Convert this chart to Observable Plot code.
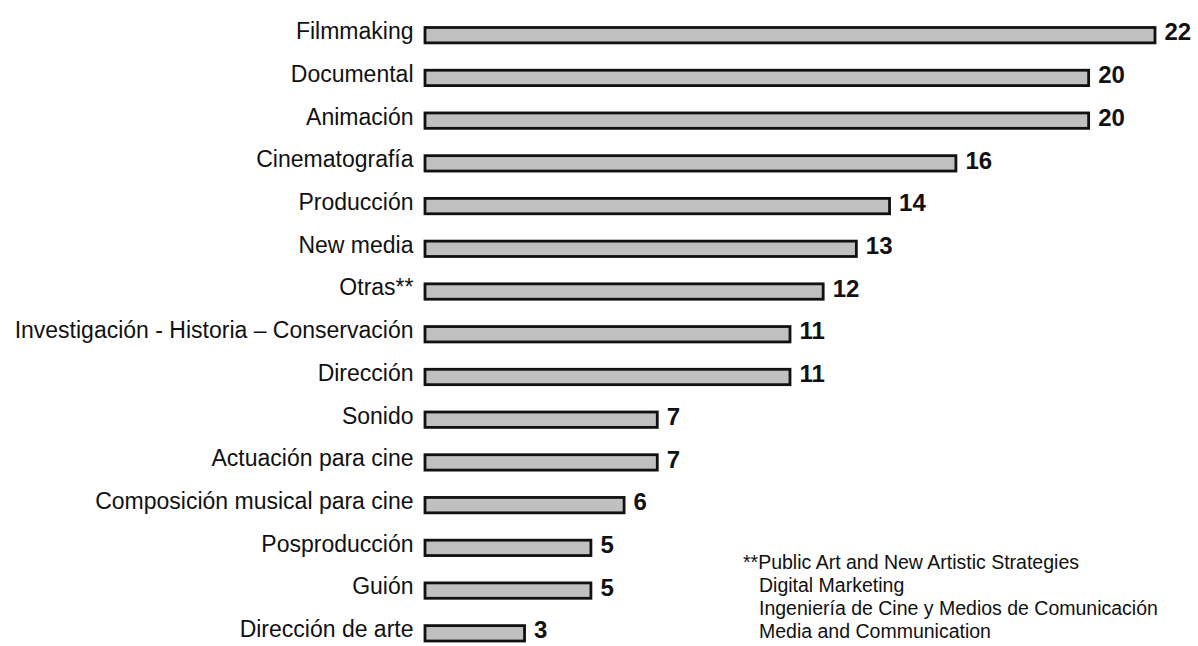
<!DOCTYPE html>
<html>
<head>
<meta charset="utf-8">
<script src="https://cdn.jsdelivr.net/npm/d3@7"></script>
<script src="https://cdn.jsdelivr.net/npm/@observablehq/plot@0.6"></script>
<style>
  html, body { margin: 0; padding: 0; background: #fff; }
  #wrap { position: relative; width: 1198px; height: 646px; overflow: hidden; }
  #note {
    position: absolute; left: 743px; top: 551px;
    font-family: "Liberation Sans", Arial, sans-serif; font-size: 19.5px; line-height: 23px; color: #111;
  }
  #note .ind { padding-left: 16px; }
</style>
</head>
<body>
<div id="wrap"><div id="chart"></div>
<div id="note">
  <div>**Public Art and New Artistic Strategies</div>
  <div class="ind">Digital Marketing</div>
  <div class="ind">Ingeniería de Cine y Medios de Comunicación</div>
  <div class="ind">Media and Communication</div>
</div></div>
<script>
const categories = [
  "Filmmaking", "Documental", "Animación", "Cinematografía", "Producción",
  "New media", "Otras**", "Investigación - Historia – Conservación", "Dirección",
  "Sonido", "Actuación para cine", "Composición musical para cine",
  "Posproducción", "Guión", "Dirección de arte"
];
const values = [22, 20, 20, 16, 14, 13, 12, 11, 11, 7, 7, 6, 5, 5, 3];

const data = categories.map((c, i) => ({category: c, value: values[i]}));

const chart = Plot.plot({
  width: 1198,
  height: 646,
  marginLeft: 425,
  marginRight: 43,
  marginTop: 0,
  marginBottom: 0,
  style: {fontFamily: "'Liberation Sans', Arial, sans-serif", background: "#fff", overflow: "hidden"},
  x: {domain: [0, 22], range: [425, 1155], axis: null},
  y: {domain: categories, range: [27.5, 641], paddingInner: 0.64, paddingOuter: 0, round: false, label: null},
  marks: [
    Plot.barX(data, {x: "value", y: "category", fill: "#c0c0c0", stroke: "#111", strokeWidth: 2.8}),
    Plot.text(data, {x: "value", y: "category", text: d => String(d.value), textAnchor: "start", dx: 9, dy: -3,
      fontSize: 24, fontWeight: "bold", fill: "#111"}),
    Plot.axisY({tickSize: 0, tickPadding: 12, fontSize: 23, dy: -4, fill: "#111", label: null})
  ]
});
document.getElementById("chart").appendChild(chart);
</script>
</body>
</html>
